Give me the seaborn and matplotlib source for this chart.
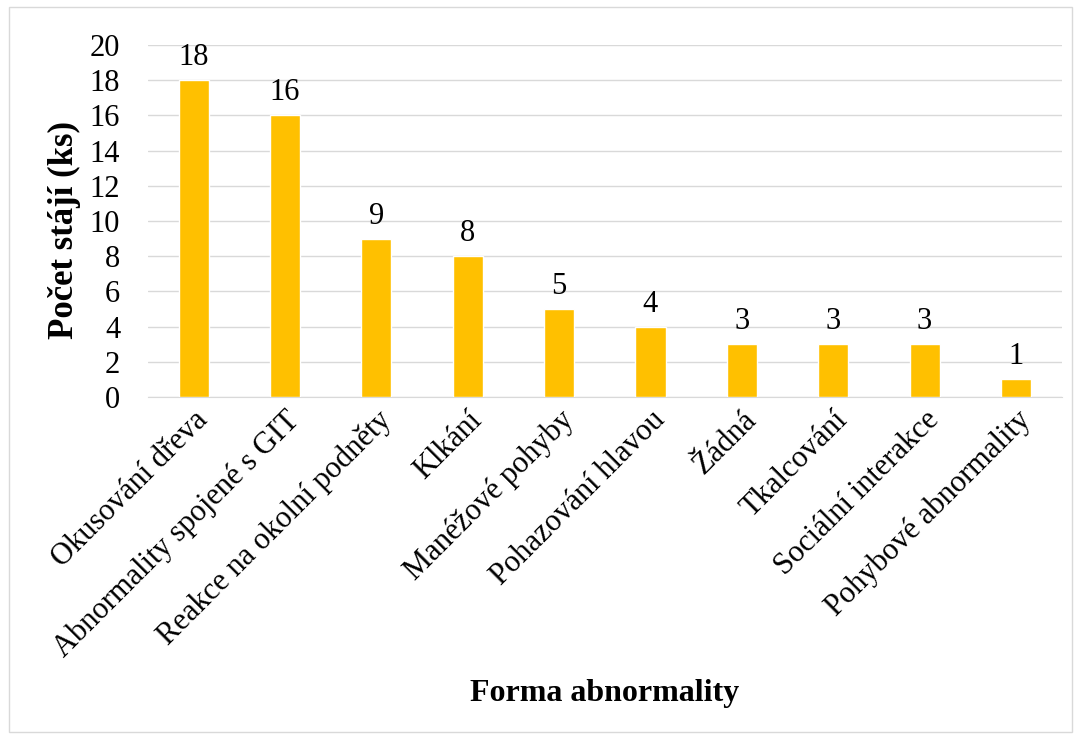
import matplotlib
matplotlib.use("Agg")
import matplotlib.pyplot as plt
import seaborn as sns
import pandas as pd

categories = ["Okusování dřeva", "Abnormality spojené s GIT", "Reakce na okolní podněty",
              "Klkání", "Manéžové pohyby", "Pohazování hlavou", "Žádná", "Tkalcování",
              "Sociální interakce", "Pohybové abnormality"]
counts = [18, 16, 9, 8, 5, 4, 3, 3, 3, 1]
y_ticks = [0, 2, 4, 6, 8, 10, 12, 14, 16, 18, 20]

df = pd.DataFrame({"forma": categories, "pocet": counts})

sns.set_style("white")
plt.rcParams['font.family'] = ['Liberation Serif', 'DejaVu Serif']
plt.rcParams['text.color'] = 'black'

fig = plt.figure(figsize=(10.8, 7.36), dpi=100)
ax = fig.add_axes([0.137, 0.4606, 0.846, 0.4783])

sns.barplot(data=df, x="forma", y="pocet", color="#FFC000", saturation=1,
            width=0.33, ax=ax, zorder=3)

ax.set_ylim(0, 20)
ax.set_yticks(y_ticks)
ax.set_xlim(-0.5, len(categories) - 0.5)
ax.yaxis.grid(True, color="#d9d9d9", linewidth=1, zorder=0)
ax.set_axisbelow(True)
for s in ["top", "right", "left"]:
    ax.spines[s].set_visible(False)
ax.spines["bottom"].set_color("#d9d9d9")
ax.tick_params(axis="both", length=0, labelsize=22, colors="black")
ax.tick_params(axis="y", pad=20)
ax.tick_params(axis="x", pad=6)
plt.setp(ax.get_xticklabels(), rotation=45, ha="right", rotation_mode="anchor")

for i, v in enumerate(counts):
    ax.text(i, v + 0.45, str(v), ha="center", va="bottom", fontsize=22)

ax.set_ylabel("")
ax.set_xlabel("")
fig.text(0.06, 0.6875, "Počet stájí (ks)", ha="center", va="center", rotation=90,
         fontsize=25, fontweight="bold")
fig.text(0.56, 0.058, "Forma abnormality", ha="center", va="center",
         fontsize=23, fontweight="bold")

# outer frame
fig.patches.append(plt.Rectangle((0.008, 0.005), 0.985, 0.985, transform=fig.transFigure,
                                 fill=False, edgecolor="#d9d9d9", linewidth=1))

plt.savefig("out.png", dpi=100)
